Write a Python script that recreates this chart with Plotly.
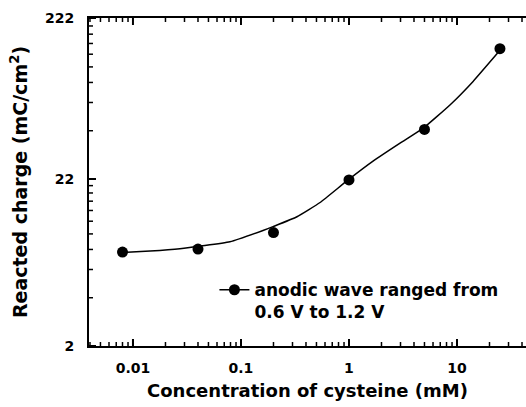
import math
import plotly.graph_objects as go

# Data
concentration_mM = [0.008, 0.04, 0.2, 1, 5, 25]
reacted_charge = [7.7, 8.05, 10.2, 21.7, 44.8, 142.8]

# Fitted curve
fit_x = [0.008, 0.0144, 0.0272, 0.079, 0.16, 0.198, 0.33, 0.54, 0.957,
         1.67, 2.97, 4.84, 8.61, 14.1, 25]
fit_y = [7.65, 7.82, 8.09, 8.93, 10.5, 11.1, 12.8, 15.7, 21.4,
         28.4, 36.8, 45.5, 63.7, 89.3, 139.5]

x_tick_vals = [0.01, 0.1, 1, 10]
x_tick_text = ["0.01", "0.1", "1", "10"]
y_tick_vals = [2, 22, 222]
y_tick_text = ["2", "22", "222"]

x_minor = [m * 10.0 ** d for d in range(-3, 2) for m in range(2, 10)]
y_minor = [2 * k for k in range(2, 11)] + [22 * k for k in range(2, 10)]

FONT = "DejaVu Sans, Liberation Sans, Arial, sans-serif"
LEGEND_NAME = "anodic wave ranged from<br>0.6 V to 1.2 V"

X_RANGE = [math.log10(0.01) - 0.407, math.log10(10) + 0.639]
Y_RANGE = [math.log10(2), math.log10(222)]
X_MIN, X_MAX = 10 ** X_RANGE[0], 10 ** X_RANGE[1]

fig = go.Figure()
fig.add_trace(go.Scatter(
    x=fit_x, y=fit_y, mode="lines",
    line=dict(color="black", width=1.5, shape="spline", smoothing=0.4),
    showlegend=False, hoverinfo="skip",
))
fig.add_trace(go.Scatter(
    x=concentration_mM, y=reacted_charge,
    mode="markers",
    marker=dict(color="black", size=11),
    name=LEGEND_NAME, showlegend=False,
))
# legend entry (line + marker)
fig.add_trace(go.Scatter(
    x=[None], y=[None], mode="lines+markers",
    line=dict(color="black", width=1.5),
    marker=dict(color="black", size=11),
    name=LEGEND_NAME, showlegend=True,
))

# tick marks drawn as pixel-sized shapes anchored at the axis values
def xtick(v, at_top, length, width):
    return dict(type="line", xref="x", x0=v, x1=v,
                yref="paper", ysizemode="pixel", yanchor=1 if at_top else 0,
                y0=0, y1=-length if at_top else length,
                line=dict(color="black", width=width), layer="above")

def ytick(v, length, width):
    return dict(type="line", yref="y", y0=v, y1=v,
                xref="paper", xsizemode="pixel", xanchor=0,
                x0=0, x1=length,
                line=dict(color="black", width=width), layer="above")

shapes = []
for v in x_tick_vals:
    shapes.append(xtick(v, False, 7, 2))
    shapes.append(xtick(v, True, 7, 2))
for v in x_minor:
    if X_MIN < v < X_MAX:
        shapes.append(xtick(v, False, 4, 1.5))
        shapes.append(xtick(v, True, 4, 1.5))
for v in y_tick_vals:
    shapes.append(ytick(v, 7, 2))
for v in y_minor:
    shapes.append(ytick(v, 4, 1.5))

fig.update_layout(
    width=526, height=407,
    margin=dict(l=89, r=0, t=18, b=61),
    paper_bgcolor="white", plot_bgcolor="white",
    font=dict(family=FONT, color="black", size=14, weight="bold"),
    shapes=shapes,
    legend=dict(x=0.287, y=0.225, xanchor="left", yanchor="top",
                bgcolor="rgba(0,0,0,0)", valign="top",
                font=dict(size=17, weight="bold", family=FONT)),
    xaxis=dict(
        type="log", range=X_RANGE,
        tickmode="array", tickvals=x_tick_vals, ticktext=x_tick_text,
        ticks="inside", ticklen=7, tickwidth=2, tickcolor="black",
        showline=True, linewidth=2, linecolor="black", mirror=True,
        showgrid=False, zeroline=False,
        ticklabelstandoff=8,
        tickfont=dict(size=14, weight="bold", family=FONT),
        title=dict(text="Concentration of cysteine (mM)", standoff=10,
                   font=dict(size=18, weight="bold", family=FONT)),
    ),
    yaxis=dict(
        type="log", range=Y_RANGE,
        tickmode="array", tickvals=y_tick_vals, ticktext=y_tick_text,
        ticks="inside", ticklen=7, tickwidth=2, tickcolor="black",
        showline=True, linewidth=2, linecolor="black", mirror=False,
        showgrid=False, zeroline=False,
        ticklabelstandoff=10,
        tickfont=dict(size=14, weight="bold", family=FONT),
        title=dict(text="Reacted charge (mC/cm<sup>2</sup>)", standoff=12,
                   font=dict(size=19, weight="bold", family=FONT)),
    ),
)

fig.write_html("out.html")
